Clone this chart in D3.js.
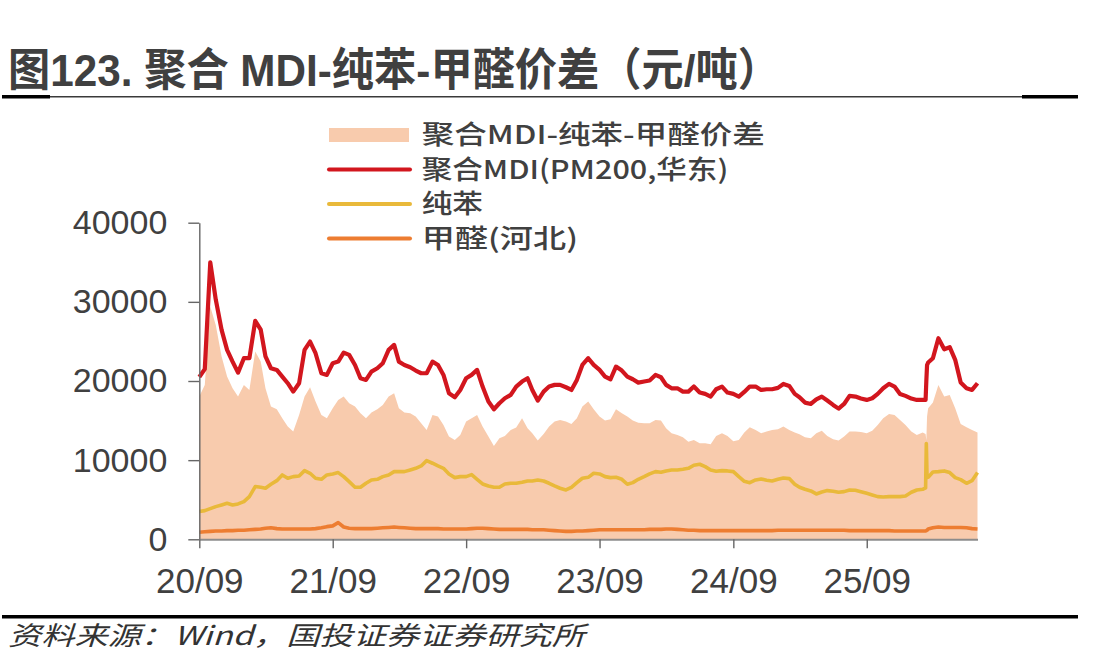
<!DOCTYPE html>
<html>
<head>
<meta charset="utf-8">
<script src="https://cdn.jsdelivr.net/npm/d3@7"></script>
<style>
  body { margin: 0; background: #fff; }
  svg { display: block; }
</style>
</head>
<body>
<div id="chart"></div>
<script>
// semi-monthly samples, plus a few extra points around the Feb-2026 jump
const dates = [
  "2020-09-01","2020-09-16","2020-10-01","2020-10-16","2020-11-01","2020-11-16","2020-12-01","2020-12-16",
  "2021-01-01","2021-01-16","2021-02-01","2021-02-16","2021-03-01","2021-03-16","2021-04-01","2021-04-16",
  "2021-05-01","2021-05-16","2021-06-01","2021-06-16","2021-07-01","2021-07-16","2021-08-01","2021-08-16",
  "2021-09-01","2021-09-16","2021-10-01","2021-10-16","2021-11-01","2021-11-16","2021-12-01","2021-12-16",
  "2022-01-01","2022-01-16","2022-02-01","2022-02-16","2022-03-01","2022-03-16","2022-04-01","2022-04-16",
  "2022-05-01","2022-05-16","2022-06-01","2022-06-16","2022-07-01","2022-07-16","2022-08-01","2022-08-16",
  "2022-09-01","2022-09-16","2022-10-01","2022-10-16","2022-11-01","2022-11-16","2022-12-01","2022-12-16",
  "2023-01-01","2023-01-16","2023-02-01","2023-02-16","2023-03-01","2023-03-16","2023-04-01","2023-04-16",
  "2023-05-01","2023-05-16","2023-06-01","2023-06-16","2023-07-01","2023-07-16","2023-08-01","2023-08-16",
  "2023-09-01","2023-09-16","2023-10-01","2023-10-16","2023-11-01","2023-11-16","2023-12-01","2023-12-16",
  "2024-01-01","2024-01-16","2024-02-01","2024-02-16","2024-03-01","2024-03-16","2024-04-01","2024-04-16",
  "2024-05-01","2024-05-16","2024-06-01","2024-06-16","2024-07-01","2024-07-16","2024-08-01","2024-08-16",
  "2024-09-01","2024-09-16","2024-10-01","2024-10-16","2024-11-01","2024-11-16","2024-12-01","2024-12-16",
  "2025-01-01","2025-01-16","2025-02-01","2025-02-16","2025-03-01","2025-03-16","2025-04-01","2025-04-16",
  "2025-05-01","2025-05-16","2025-06-01","2025-06-16","2025-07-01","2025-07-16","2025-08-01","2025-08-16",
  "2025-09-01","2025-09-16","2025-10-01","2025-10-16","2025-11-01","2025-11-16","2025-12-01","2025-12-16",
  "2026-01-01","2026-01-16","2026-02-01","2026-02-09","2026-02-11","2026-02-13","2026-02-16",
  "2026-03-01","2026-03-16","2026-04-01","2026-04-16","2026-05-01","2026-05-16","2026-06-01","2026-06-16",
  "2026-07-01"
];

// 聚合MDI-纯苯-甲醛价差
const spread = [
  18030, 19500, 29400, 27090, 23090, 20560, 19080, 18030, 19500, 18870,
  23720, 22450, 19080, 16770, 16430, 15290, 14240, 13610, 15710, 18030,
  19210, 17400, 15710, 15290, 16560, 17610, 18030, 17190, 16770, 15930,
  15290, 16010, 16430, 16980, 18030, 18450, 16560, 16010, 15930, 15500,
  14660, 13820, 15710, 15500, 14450, 12980, 12550, 13180,
  14870, 15290, 15710, 14240, 12980, 11800, 12770, 13060, 13820, 14110,
  15290, 14030, 13400, 12470, 13310, 14240, 14870, 15080, 14870, 14580,
  15290, 16770, 17400, 16430, 15500, 15000, 15170, 16430, 15930, 15500,
  15000, 14740, 14660, 14660, 15080, 15000, 14030, 13400, 13180, 12890,
  12340, 12550, 12130, 12130, 12010, 13060, 13400, 13060,
  12390, 12550, 13480, 14160, 13820, 13400, 13610, 13820, 13900, 14240,
  13820, 13480, 13270, 12890, 12770, 13400, 13730, 13060, 12640, 12470,
  12980, 13610, 13610, 13570, 13400, 13730, 14450, 15290, 15840, 15710,
  15080, 14450, 13610, 13180, 13480,
  13300, 12500, 15500,
  16560, 17270, 19500, 18030, 18240, 16560, 14580, 14160, 13820, 13480
];

// 聚合MDI(PM200,华东)
const mdi = [
  20500, 21500, 35000, 30300, 26460, 23930, 22450, 21060, 22880, 22880,
  27600, 26500, 23100, 21610, 21400, 20560, 19720, 18660, 19720, 23930,
  24980, 23510, 20980, 20770, 22240, 22450, 23590, 23300, 22030, 20350,
  20140, 21190, 21610, 22240, 23930, 24560, 22450, 22030, 21740, 21320,
  20980, 20980, 22450, 22030, 20770, 18450, 17950, 18870,
  20350, 20770, 21400, 19300, 17400, 16430, 17190, 17820, 18240, 19300,
  19930, 20350, 18870, 17530, 18660, 19300, 19510, 19510, 19210, 18870,
  20140, 22030, 22880, 22030, 21400, 20560, 20220, 21820, 21320, 20560,
  20220, 19800, 19930, 20060, 20770, 20470, 19510, 19080, 19080, 18660,
  18660, 19300, 18540, 18370, 18030, 18960, 19300, 18540,
  18370, 18030, 18620, 19300, 19300, 18870, 18960, 18960, 19130, 19630,
  19380, 18370, 17950, 17270, 17100, 17690, 18030, 17530, 16980, 16510,
  17100, 18120, 18030, 17780, 17610, 17820, 18370, 19080, 19630, 19300,
  18370, 18120, 17780, 17610, 17610,
  17610, 20000, 22000,
  22330, 22880, 25400, 24010, 24270, 22670, 19800, 19080, 18870, 19720
];

// 纯苯
const benzene = [
  3500, 3620, 3870, 4130, 4340, 4550, 4340, 4470, 4760, 5390,
  6660, 6570, 6450, 6950, 7410, 8130, 7710, 7920, 8000, 8680,
  8340, 7710, 7580, 8130, 8260, 8430, 7920, 7290, 6570, 6570,
  7080, 7500, 7580, 7920, 8130, 8550, 8550, 8550, 8760, 8970,
  9270, 9940, 9610, 9270, 8970, 8260, 7790, 7920,
  7920, 8170, 7580, 6990, 6740, 6570, 6570, 6990, 7080, 7080,
  7200, 7370, 7370, 7500, 7370, 7080, 6740, 6450, 6230, 6570,
  7160, 7710, 7830, 8340, 8260, 7920, 7790, 7830, 7580, 6950,
  7160, 7580, 7920, 8260, 8550, 8470, 8640, 8760, 8760, 8850,
  8970, 9350, 9480, 9180, 8760, 8600, 8680, 8640,
  8550, 7920, 7330, 7160, 7500, 7620, 7460, 7370, 7580, 7750,
  7670, 6950, 6570, 6320, 6110, 5730, 5980, 6150, 6070, 5940,
  6020, 6230, 6190, 6020, 5810, 5600, 5390, 5350, 5390, 5390,
  5390, 5480, 5940, 6230, 6320,
  6500, 12100, 7800,
  7830, 8510, 8550, 8640, 8430, 7790, 7540, 7080, 7410, 8430
];

// 甲醛(河北)
const formaldehyde = [
  900, 950, 1000, 1050, 1050, 1100, 1100, 1150, 1150, 1200,
  1250, 1300, 1400, 1450, 1350, 1300, 1300, 1300, 1300, 1300,
  1300, 1350, 1450, 1600, 1700, 2100, 1550, 1400, 1350, 1350,
  1350, 1350, 1400, 1450, 1500, 1550, 1500, 1450, 1400, 1350,
  1350, 1350, 1350, 1350, 1300, 1300, 1300, 1300,
  1300, 1350, 1400, 1400, 1350, 1300, 1250, 1250, 1250, 1250,
  1250, 1250, 1200, 1200, 1200, 1150, 1100, 1050, 1000, 1000,
  1050, 1050, 1100, 1150, 1200, 1200, 1200, 1200, 1200, 1200,
  1200, 1200, 1200, 1250, 1250, 1250, 1300, 1300, 1250, 1200,
  1150, 1150, 1100, 1100, 1100, 1100, 1100, 1100,
  1100, 1100, 1100, 1100, 1100, 1100, 1100, 1100, 1150, 1150,
  1150, 1150, 1150, 1150, 1150, 1150, 1150, 1150, 1150, 1150,
  1150, 1100, 1100, 1100, 1100, 1100, 1100, 1100, 1100, 1050,
  1050, 1050, 1050, 1050, 1050,
  1050, 1100, 1150,
  1300, 1450, 1550, 1500, 1500, 1500, 1500, 1450, 1350, 1300
];

const yTicks = [0, 10000, 20000, 30000, 40000];
const xTicks = ["2020-09-01", "2021-09-01", "2022-09-01", "2023-09-01", "2024-09-01", "2025-09-01"];
const legendLabels = ["聚合MDI-纯苯-甲醛价差", "聚合MDI(PM200,华东)", "纯苯", "甲醛(河北)"];

const W = 1105, H = 651;
const RED = "#d2161e", YELLOW = "#e9b93a", ORANGE = "#ed7d31", PEACH = "#f8cbad";
const TEXT = "#404040";
const NUM_FONT = "'Liberation Sans', Arial, sans-serif";
const CJK_FONT = "'Noto Sans CJK SC', 'Liberation Sans', sans-serif";

const parse = d3.timeParse("%Y-%m-%d");
const rows = dates.map((d, i) => ({
  date: parse(d),
  spread: spread[i],
  mdi: mdi[i],
  benzene: benzene[i],
  formaldehyde: formaldehyde[i],
}));

const svg = d3
  .select("#chart")
  .append("svg")
  .attr("width", W)
  .attr("height", H)
  .attr("viewBox", `0 0 ${W} ${H}`);

svg.append("rect").attr("width", W).attr("height", H).attr("fill", "#fff");

// title + rules
svg
  .append("text")
  .attr("x", 8)
  .attr("y", 86)
  .attr("font-family", "'Liberation Sans', 'Noto Sans CJK SC', sans-serif")
  .attr("font-weight", 700)
  .attr("font-size", 45)
  .attr("fill", TEXT)
  .attr("textLength", 772)
  .attr("lengthAdjust", "spacingAndGlyphs")
  .text("图123. 聚合 MDI-纯苯-甲醛价差（元/吨）");

svg.append("line").attr("x1", 50).attr("x2", 1022).attr("y1", 96.7).attr("y2", 96.7)
  .attr("stroke", "#3a3a3a").attr("stroke-width", 1.5);
[[2, 50], [1022, 1078]].forEach(([a, b]) => {
  svg.append("line").attr("x1", a).attr("x2", b).attr("y1", 96.7).attr("y2", 96.7)
    .attr("stroke", "#000").attr("stroke-width", 3.5);
});
svg.append("line").attr("x1", 2).attr("x2", 1078).attr("y1", 616.7).attr("y2", 616.7)
  .attr("stroke", "#000").attr("stroke-width", 3.5);

svg
  .append("text")
  .attr("x", 8)
  .attr("y", 645)
  .attr("font-family", CJK_FONT)
  .attr("font-style", "italic")
  .attr("font-size", 26)
  .attr("fill", "#333")
  .attr("textLength", 577)
  .attr("lengthAdjust", "spacingAndGlyphs")
  .text("资料来源：Wind，国投证券证券研究所");

// scales
const x = d3
  .scaleTime()
  .domain([parse("2020-09-01"), parse("2026-07-01")])
  .range([199.3, 977.5]);
const y = d3.scaleLinear().domain([0, 40000]).range([539.3, 222.7]);

// area + lines
const area = d3
  .area()
  .x((d) => x(d.date))
  .y0(y(0))
  .y1((d) => y(d.spread));

svg.append("path").datum(rows).attr("d", area).attr("fill", PEACH);

const series = [
  { key: "formaldehyde", color: ORANGE, width: 3.6 },
  { key: "benzene", color: YELLOW, width: 3.6 },
  { key: "mdi", color: RED, width: 4.2 },
];

series.forEach(({ key, color, width }) => {
  const line = d3
    .line()
    .x((d) => x(d.date))
    .y((d) => y(d[key]));
  svg
    .append("path")
    .datum(rows)
    .attr("d", line)
    .attr("fill", "none")
    .attr("stroke", color)
    .attr("stroke-width", width)
    .attr("stroke-linejoin", "round");
});

// axes
const yAxis = svg
  .append("g")
  .attr("transform", `translate(${x.range()[0]},0)`)
  .call(d3.axisLeft(y).tickValues(yTicks).tickSize(11).tickSizeOuter(0).tickPadding(21).tickFormat(d3.format("d")));
yAxis.select(".domain").attr("stroke", "#666").attr("stroke-width", 1.4);
yAxis.selectAll(".tick line").attr("stroke", "#666").attr("stroke-width", 1.4);
yAxis.selectAll("text")
  .attr("font-family", NUM_FONT)
  .attr("font-size", 34)
  .attr("fill", TEXT);

const xAxis = svg
  .append("g")
  .attr("transform", `translate(0,${y(0)})`)
  .call(
    d3.axisBottom(x)
      .tickValues(xTicks.map(parse))
      .tickSize(9)
      .tickSizeOuter(0)
      .tickPadding(20)
      .tickFormat(d3.timeFormat("%y/%m"))
  );
xAxis.select(".domain").attr("stroke", "#8c8c8c").attr("stroke-width", 2);
xAxis.selectAll(".tick line").attr("stroke", "#666").attr("stroke-width", 1.4);
xAxis.selectAll("text")
  .attr("font-family", NUM_FONT)
  .attr("font-size", 35)
  .attr("fill", TEXT);

// legend
const legendRows = [135, 169.5, 204, 238.5];
const legendWidths = [343, 306.6, 61.3, 156.3];
const legendColors = [PEACH, RED, YELLOW, ORANGE];
const legend = svg.append("g");
legendLabels.forEach((label, i) => {
  const ly = legendRows[i];
  if (i === 0) {
    legend.append("rect").attr("x", 329).attr("y", ly - 7).attr("width", 80).attr("height", 14)
      .attr("fill", legendColors[i]);
  } else {
    legend.append("line").attr("x1", 329).attr("x2", 410).attr("y1", ly).attr("y2", ly)
      .attr("stroke", legendColors[i]).attr("stroke-width", 4).attr("stroke-linecap", "round");
  }
  legend
    .append("text")
    .attr("x", 421.7)
    .attr("y", ly)
    .attr("dy", "0.36em")
    .attr("font-family", CJK_FONT)
    .attr("font-weight", 500)
    .attr("font-size", 26)
    .attr("fill", TEXT)
    .attr("textLength", legendWidths[i])
    .attr("lengthAdjust", "spacingAndGlyphs")
    .text(label);
});
</script>
</body>
</html>
